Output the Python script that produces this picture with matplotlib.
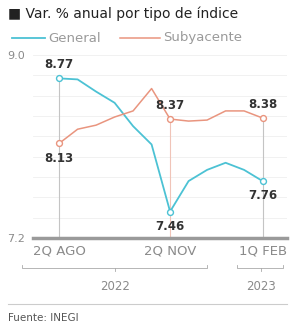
import numpy as np
import matplotlib.pyplot as plt
from matplotlib.transforms import blended_transform_factory

quincenas = ['2Q AGO', '1Q SEP', '2Q SEP', '1Q OCT', '2Q OCT', '1Q NOV',
             '2Q NOV', '1Q DIC', '2Q DIC', '1Q ENE', '2Q ENE', '1Q FEB']
general = [8.77, 8.76, 8.64, 8.53, 8.30, 8.12, 7.46, 7.76, 7.87, 7.94, 7.87, 7.76]
subyacente = [8.13, 8.27, 8.31, 8.39, 8.45, 8.67, 8.37, 8.35, 8.36, 8.45, 8.45, 8.38]
destacados = [0, 6, 11]
years = ['2022', '2023']

c_gen = '#4cc2d4'
c_sub = '#e9957f'

fig = plt.figure(figsize=(2.94, 3.27), dpi=100)
ax = fig.add_axes([33/294, 1-238/327, 254/294, 183/327])

x = np.arange(len(quincenas))
ax.set_xlim(-1.41, 12.32)
ax.set_ylim(7.2, 9.0)

# faint grid
for g in np.arange(7.4, 9.01, 0.2):
    ax.axhline(g, color='#efefef', lw=0.6, zorder=0)

# vertical guides at highlighted points
for i in destacados:
    top = max(general[i], subyacente[i])
    col = '#f0c4b8' if i == 6 else '#c4c4c4'
    ax.plot([i, i], [7.2, top], color=col, lw=0.8, zorder=1)

ax.plot(x, general, color=c_gen, lw=1.3, zorder=3)
ax.plot(x, subyacente, color=c_sub, lw=1.1, zorder=3)
ax.scatter(x[destacados], [general[i] for i in destacados], s=18, facecolor='white',
           edgecolor=c_gen, lw=1, zorder=4)
ax.scatter(x[destacados], [subyacente[i] for i in destacados], s=18, facecolor='white',
           edgecolor=c_sub, lw=1, zorder=4)

lab = dict(textcoords='offset points', ha='center', va='center', fontsize=8.5,
           fontweight='bold', color='#333333')
for i in destacados:
    g, s = general[i], subyacente[i]
    hi, lo = (g, s) if g > s else (s, g)
    ax.annotate(f'{hi:.2f}', (i, hi), xytext=(0, 10), **lab)
    ax.annotate(f'{lo:.2f}', (i, lo), xytext=(0, -10.5), **lab)

# bottom axis line
ax.axhline(7.2, color='#9a9a9a', lw=2.5, zorder=5, clip_on=False)

for sp in ax.spines.values():
    sp.set_visible(False)
ax.set_yticks([7.2, 9.0])
ax.set_yticklabels(['7.2', '9.0'])
ax.set_xticks(destacados)
ax.set_xticklabels([quincenas[i] for i in destacados])
ax.tick_params(axis='both', length=0, labelcolor='#8a8a8a')
ax.tick_params(axis='x', pad=5, labelsize=9.5)
ax.tick_params(axis='y', pad=6, labelsize=8)

# year brackets
tr = blended_transform_factory(ax.transData, fig.transFigure)
yb = 1 - 268/327
for (a, b, m), yr in zip([(-2.0, 8.0, 3.0), (9.6, 12.1, 10.9)], years):
    ax.plot([a, a, b, b], [yb+0.008, yb, yb, yb+0.008], color='#aaaaaa', lw=0.6,
            transform=tr, clip_on=False)
    ax.plot([m, m], [yb, yb-0.01], color='#aaaaaa', lw=0.6, transform=tr, clip_on=False)
    ax.text(m, 1-287/327, yr, transform=tr, ha='center', va='center',
            fontsize=8.5, color='#8a8a8a')

# title and legend
fig.text(8/294, 1-14/327, '\u25a0 Var. % anual por tipo de índice', fontsize=10,
         color='#222222', va='center', ha='left')
yl = 1 - 38/327
fig.add_artist(plt.Line2D([12/294, 45/294], [yl, yl], color=c_gen, lw=1.3))
fig.text(48/294, yl, 'General', fontsize=9.5, color='#9a9a9a', va='center')
fig.add_artist(plt.Line2D([120/294, 160/294], [yl, yl], color=c_sub, lw=1.1))
fig.text(163/294, yl, 'Subyacente', fontsize=9.5, color='#9a9a9a', va='center')

# source
fig.add_artist(plt.Line2D([8/294, 287/294], [1-304/327, 1-304/327], color='#cccccc', lw=0.8))
fig.text(8/294, 1-318/327, 'Fuente: INEGI', fontsize=7.5, color='#555555', va='center')

fig.savefig('out.png', dpi=100)
